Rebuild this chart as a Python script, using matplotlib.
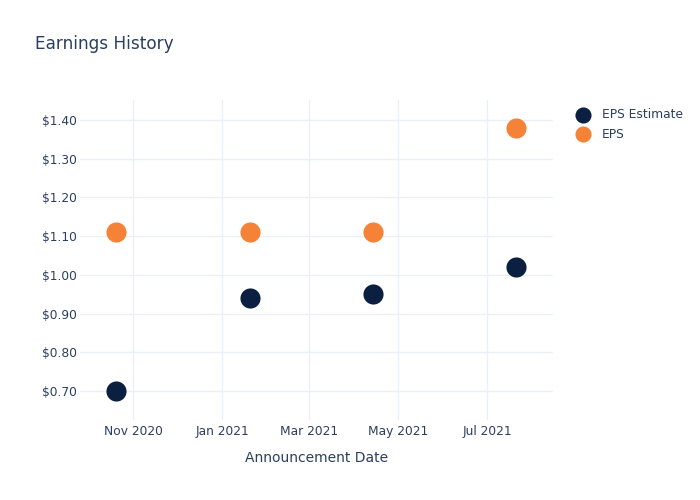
import matplotlib
matplotlib.use('Agg')
import matplotlib.pyplot as plt
import matplotlib.dates as mdates
import pandas as pd

dates = pd.to_datetime(['2020-10-20', '2021-01-20', '2021-04-14', '2021-07-21'])
eps_estimate = [0.70, 0.94, 0.95, 1.02]
eps_actual = [1.11, 1.11, 1.11, 1.38]

txt = '#2a3f5f'
grid = '#ebf0f8'

fig = plt.figure(figsize=(7, 5), dpi=100)
ax = fig.add_axes([80/700, 80/500, 473/700, 320/500])

ax.scatter(dates, eps_estimate, s=210, color='#0b1f41', label='EPS Estimate', zorder=3, linewidths=0)
ax.scatter(dates, eps_actual, s=210, color='#f58337', label='EPS', zorder=3, linewidths=0)

ax.set_xlim(pd.Timestamp('2020-09-25 12:00'), pd.Timestamp('2021-08-15 05:00'))
ax.set_ylim(0.625, 1.4517)

ax.xaxis.set_major_locator(mdates.MonthLocator(bymonth=[1, 3, 5, 7, 11]))
ax.xaxis.set_major_formatter(mdates.DateFormatter('%b %Y'))
ax.set_yticks([0.7, 0.8, 0.9, 1.0, 1.1, 1.2, 1.3, 1.4])
ax.yaxis.set_major_formatter(plt.FuncFormatter(lambda v, p: '${:.2f}'.format(v)))

ax.grid(True, color=grid, linewidth=1)
ax.set_axisbelow(True)
for s in ax.spines.values():
    s.set_visible(False)
ax.tick_params(length=0, colors=txt, labelsize=8.8)
ax.tick_params(axis='x', pad=3.5)
ax.tick_params(axis='y', pad=2)

ax.set_xlabel('Announcement Date', color=txt, fontsize=10, labelpad=9.5)
fig.text(35/700, 1 - 44/500, 'Earnings History', color=txt, fontsize=12.2, va='center')

leg = ax.legend(loc='upper left', bbox_to_anchor=(1.028, 0.989), frameon=False,
                fontsize=8.8, labelcolor=txt, handletextpad=0.5, borderaxespad=0,
                labelspacing=0.5, markerscale=0.8)

fig.savefig('out.png', dpi=100)
